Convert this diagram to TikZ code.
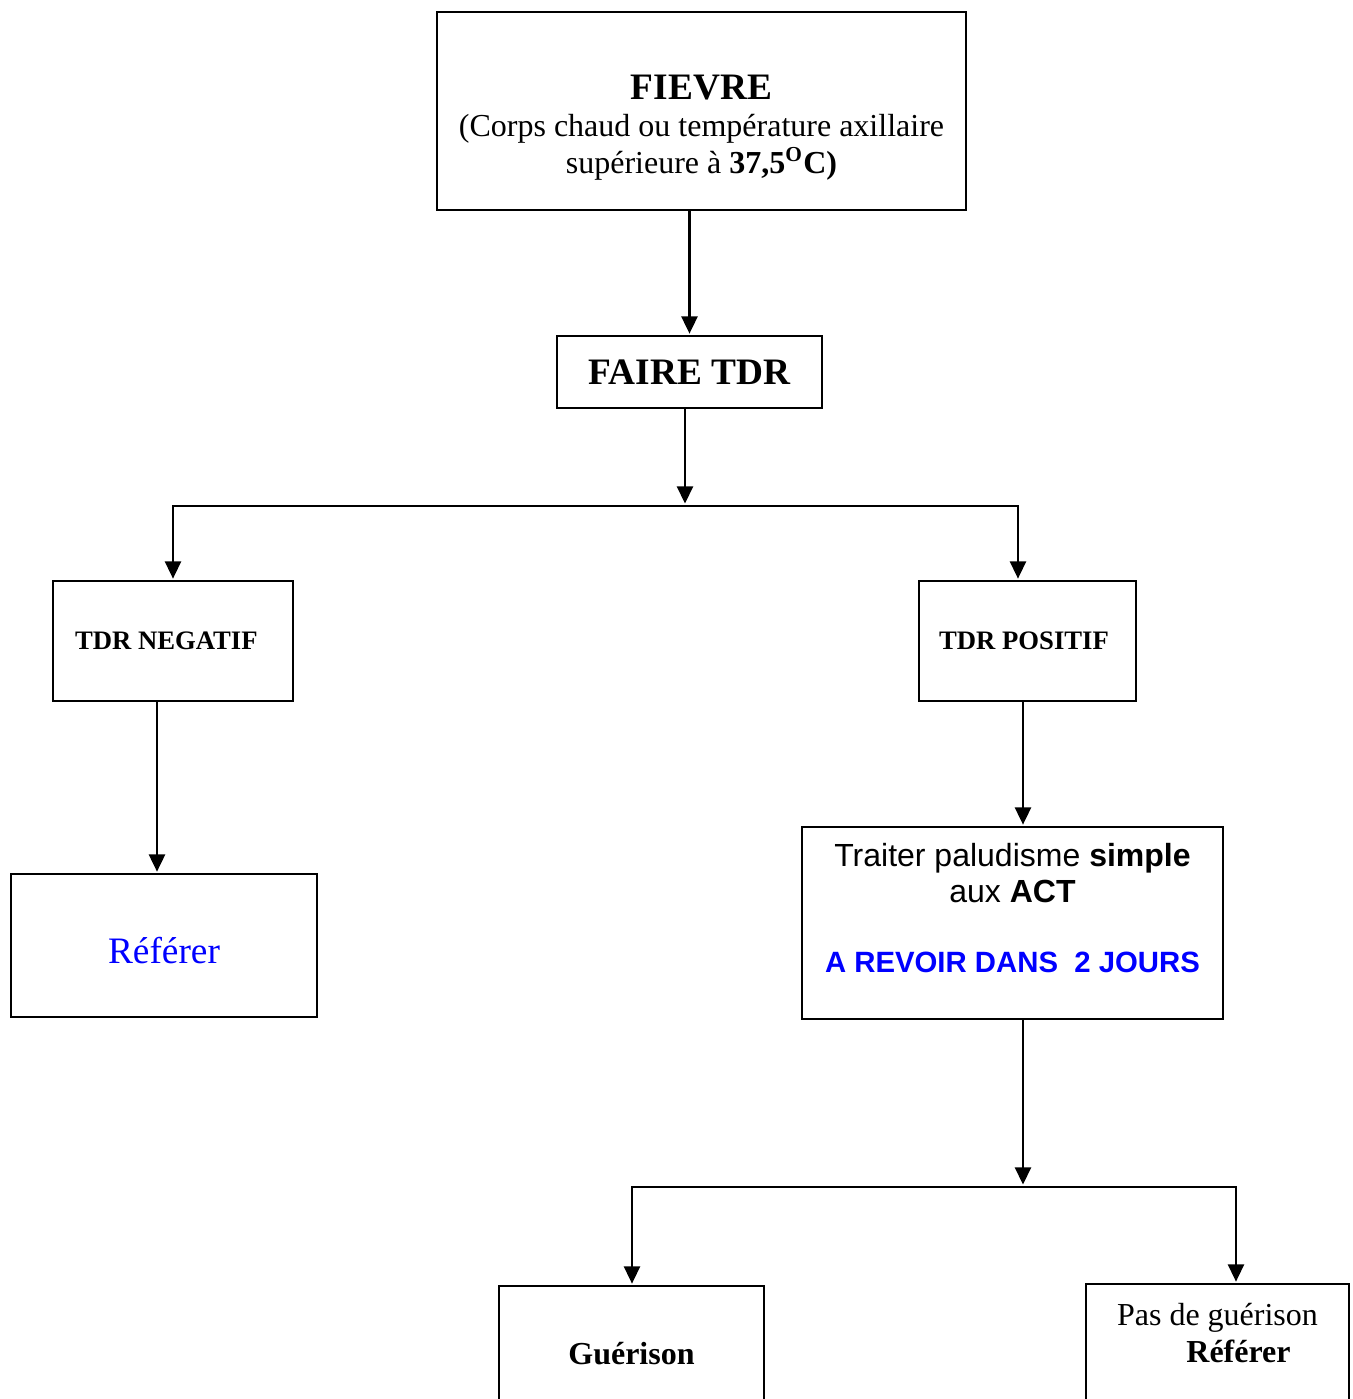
\documentclass[tikz,border=0pt]{standalone}
\usepackage{fontspec}
\setmainfont{Liberation Serif}
\newfontfamily\arialfont{Liberation Sans}
\usetikzlibrary{arrows.meta}
\tikzset{>=stealth}
\tikzset{
  boite/.style={draw, line width=0.75pt, inner sep=0pt, align=center,
    font=\fontsize{12}{13.8}\selectfont},
  fleche/.style={-{Triangle[width=6pt,length=6.5pt]}, line width=1pt, shorten >=0.5pt},
  fourche/.style={{Triangle[width=6pt,length=6.5pt]}-{Triangle[width=6pt,length=6.5pt]},
    line width=0.9pt, shorten >=0.5pt, shorten <=0.5pt}
}

\begin{document}
\begin{tikzpicture}[x=0.375pt, y=-0.375pt]
      \useasboundingbox (0,0) rectangle (1353,1399);
      \clip (0,0) rectangle (1353,1399);
      % boites
      \node[boite, minimum width=198.4pt, minimum height=74.25pt] (fievre) at (701.5,111)
        {\rule{0pt}{21.8pt}\textbf{\fontsize{14}{16}\selectfont FIEVRE}\\
         (Corps chaud ou température axillaire\\
         supérieure à \textbf{37,5\textsuperscript{O}C)}};
      \node[boite, minimum width=99.4pt, minimum height=27pt] (faire) at (689.5,372)
        {\textbf{\fontsize{14}{16}\selectfont FAIRE TDR}};
      \node[boite, minimum width=90pt, minimum height=45pt] (neg) at (173,641)
        {\textbf{\fontsize{10}{12}\selectfont TDR NEGATIF}\hspace{5pt}};
      \node[boite, minimum width=81.4pt, minimum height=45pt] (pos) at (1027.5,641)
        {\textbf{\fontsize{10}{12}\selectfont TDR POSITIF}\hspace{2.6pt}};
      \node[boite, minimum width=114.75pt, minimum height=53.6pt, text=blue] (referer) at (164,945.5)
        {\rule{0pt}{13.8pt}\fontsize{14}{16}\selectfont Référer};
      \node[boite, minimum width=157.9pt, minimum height=72pt,
        font=\arialfont\fontsize{12}{13.5}\selectfont] (traiter) at (1012.5,923)
        {Traiter paludisme \textbf{simple}\\
         aux \textbf{ACT}\\[12.75pt]
         \textcolor{blue}{\fontsize{11}{13.5}\selectfont\textbf{A REVOIR DANS~~2 JOURS}}\rule[-11pt]{0pt}{11pt}};
      \node[boite, minimum width=99.4pt, minimum height=51pt] (guer) at (631.5,1354)
        {\textbf{Guérison}};
      \node[boite, minimum width=98.6pt, minimum height=51pt, align=left] (pasgu) at (1217.5,1352)
        {Pas de guérison\\
         \hspace*{26pt}\textbf{Référer}\rule[-14.6pt]{0pt}{14.6pt}};
      % points de branchement
      \coordinate (sp1) at (685,506);
      \coordinate (l1) at (173,506);
      \coordinate (r1) at (1018,506);
      \coordinate (negx) at (157,0);
      \coordinate (posx) at (1023,0);
      \coordinate (sp2) at (1023,1187);
      \coordinate (l2) at (632,1187);
      \coordinate (r2) at (1236,1187);
      % fleches
      \draw[fleche] (fievre.south -| faire.north) -- (faire.north);
      \draw[fleche, shorten >=0.9pt] (faire.south -| sp1) -- (sp1);
      \draw[fourche] (l1 |- neg.north) -- (l1) -- (r1) -- (r1 |- pos.north);
      \draw[fleche] (neg.south -| negx) -- (referer.north -| negx);
      \draw[fleche] (pos.south -| posx) -- (traiter.north -| posx);
      \draw[fleche, shorten >=0.9pt] (traiter.south -| sp2) -- (sp2);
      \draw[fourche] (l2 |- guer.north) -- (l2) -- (r2) -- (r2 |- pasgu.north);
    \end{tikzpicture}
\end{document}
